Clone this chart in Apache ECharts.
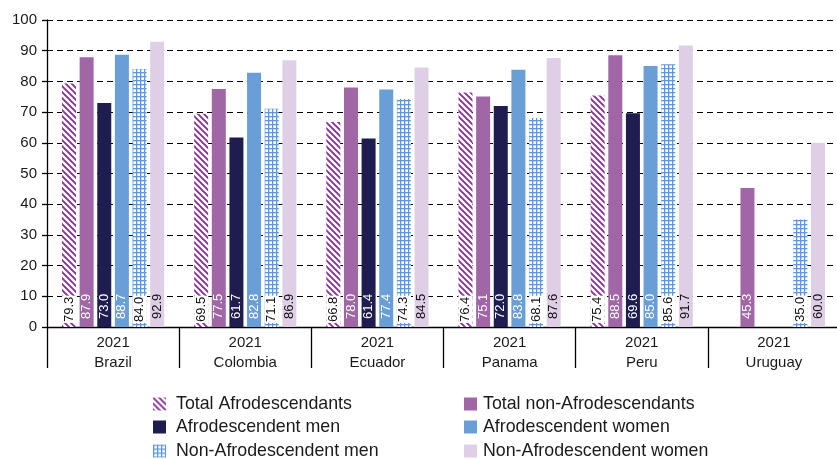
<!DOCTYPE html>
<html>
<head>
<meta charset="utf-8">
<script src="https://cdn.jsdelivr.net/npm/echarts@6/dist/echarts.min.js"></script>
<style>
  html, body { margin: 0; padding: 0; background: #ffffff; }
  #chart { width: 837px; height: 459px; }
</style>
</head>
<body>
<div id="chart"></div>
<script>
// Country groups (all surveyed in 2021)
const years = ['2021', '2021', '2021', '2021', '2021', '2021'];
const countries = ['Brazil', 'Colombia', 'Ecuador', 'Panama', 'Peru', 'Uruguay'];

// Percentages per population group
const totalAfro      = [79.3, 69.5, 66.8, 76.4, 75.4, null];
const totalNonAfro   = [87.9, 77.5, 78.0, 75.1, 88.5, 45.3];
const afroMen        = [73.0, 61.7, 61.4, 72.0, 69.6, null];
const afroWomen      = [88.7, 82.8, 77.4, 83.8, 85.0, null];
const nonAfroMen     = [84.0, 71.1, 74.3, 68.1, 85.6, 35.0];
const nonAfroWomen   = [92.9, 86.9, 84.5, 87.6, 91.7, 60.0];

const seriesNames = [
  'Total Afrodescendants', 'Total non-Afrodescendants',
  'Afrodescendent men', 'Afrodescendent women',
  'Non-Afrodescendent men', 'Non-Afrodescendent women'
];

const yTicks = [0, 10, 20, 30, 40, 50, 60, 70, 80, 90, 100];

// Diagonal hatch fill
function hatchPattern() {
  const s = 6;
  const c = document.createElement('canvas');
  c.width = s; c.height = s;
  const g = c.getContext('2d');
  g.fillStyle = '#ffffff';
  g.fillRect(0, 0, s, s);
  g.strokeStyle = '#8a2f9c';
  g.lineWidth = 1.9;
  g.beginPath();
  g.moveTo(-1, -1); g.lineTo(s + 1, s + 1);
  g.moveTo(-1, s - 1); g.lineTo(1, s + 1);
  g.moveTo(s - 1, -1); g.lineTo(s + 1, 1);
  g.stroke();
  return c;
}

// Square grid fill
function gridPattern() {
  const s = 4;
  const c = document.createElement('canvas');
  c.width = s; c.height = s;
  const g = c.getContext('2d');
  g.fillStyle = '#ffffff';
  g.fillRect(0, 0, s, s);
  g.fillStyle = '#5f98da';
  g.fillRect(0, 0, s, 1.3);
  g.fillRect(0, 0, 1.3, s);
  return c;
}

const hatchFill = { image: hatchPattern(), repeat: 'repeat' };
const gridFill = { image: gridPattern(), repeat: 'repeat' };

const FONT = '"Liberation Sans", Arial, sans-serif';

function valueLabel(color, boxed) {
  const l = {
    show: true,
    position: 'insideBottom',
    rotate: 90,
    align: 'left',
    verticalAlign: 'middle',
    distance: boxed ? 4 : 8,
    fontFamily: FONT,
    fontSize: 13,
    color: color,
    formatter: p => (p.value == null ? '' : p.value.toFixed(1))
  };
  if (boxed) {
    l.backgroundColor = '#ffffff';
    l.padding = [1, 1, 0, 1];
  }
  return l;
}

function barSeries(name, data, fill, labelColor, boxed) {
  return {
    name: name,
    type: 'bar',
    data: data,
    barWidth: 14,
    barGap: '26%',
    itemStyle: { color: fill },
    label: valueLabel(labelColor, boxed),
    emphasis: { disabled: true }
  };
}

// One legend entry per block so the two columns line up
const legendSlots = [
  { left: 153, top: 395 }, { left: 464, top: 395 },
  { left: 153, top: 418 }, { left: 464, top: 418 },
  { left: 153, top: 442 }, { left: 464, top: 442 }
];
const legends = seriesNames.map((n, i) => ({
  left: legendSlots[i].left,
  top: legendSlots[i].top,
  itemWidth: 13,
  itemHeight: 13,
  itemGap: 0,
  padding: 0,
  icon: 'rect',
  selectedMode: false,
  textStyle: { fontFamily: FONT, fontSize: 17.8, color: '#1a1a1a', padding: [0, 0, 0, i % 2 === 0 ? 5 : 1] },
  data: [n]
}));

const chart = echarts.init(document.getElementById('chart'), null, { renderer: 'canvas' });

chart.setOption({
  animation: false,
  backgroundColor: '#ffffff',
  grid: { left: 47, width: 793, top: 20, bottom: 132, containLabel: false, outerBoundsMode: 'none' },
  legend: legends,
  xAxis: {
    type: 'category',
    data: countries.map((c, i) => years[i] + '\n' + c),
    axisLine: { lineStyle: { color: '#000000', width: 1.3 } },
    axisTick: { show: true, interval: 0, length: 41, lineStyle: { color: '#000000', width: 1.3 } },
    axisLabel: {
      interval: 0,
      margin: 6,
      fontFamily: FONT,
      fontSize: 15,
      lineHeight: 20,
      color: '#1a1a1a'
    },
    splitLine: { show: false }
  },
  yAxis: {
    type: 'value',
    min: yTicks[0],
    max: yTicks[yTicks.length - 1],
    interval: 10,
    axisLine: { show: true, lineStyle: { color: '#000000', width: 1.3 } },
    axisTick: { show: true, length: 5, lineStyle: { color: '#000000', width: 1.3 } },
    axisLabel: { fontFamily: FONT, fontSize: 15, color: '#1a1a1a', margin: 10 },
    splitLine: { show: true, lineStyle: { color: '#000000', type: [6, 4], width: 1 } }
  },
  series: [
    barSeries(seriesNames[0], totalAfro, hatchFill, '#111111', true),
    barSeries(seriesNames[1], totalNonAfro, '#a066a6', '#ffffff', false),
    barSeries(seriesNames[2], afroMen, '#1f1d50', '#ffffff', false),
    barSeries(seriesNames[3], afroWomen, '#6a9ed6', '#ffffff', false),
    barSeries(seriesNames[4], nonAfroMen, gridFill, '#111111', true),
    barSeries(seriesNames[5], nonAfroWomen, '#dfcfe6', '#111111', false)
  ]
});
</script>
</body>
</html>
